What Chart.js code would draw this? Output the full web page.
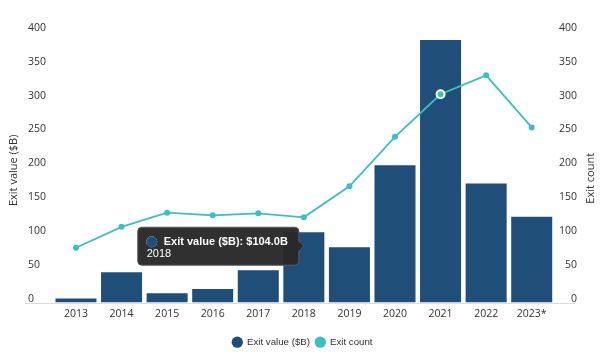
<!DOCTYPE html>
<html>
<head>
<meta charset="utf-8">
<script src="https://cdn.jsdelivr.net/npm/chart.js@4"></script>
<style>
  html, body { margin: 0; padding: 0; background: #ffffff; }
  #wrap { width: 602px; height: 354px; }
</style>
</head>
<body>
<div id="wrap"><canvas id="c" width="602" height="354"></canvas></div>
<script>
const years = ['2013', '2014', '2015', '2016', '2017', '2018', '2019', '2020', '2021', '2022', '2023*'];
const exitValue = [6, 45, 14, 20, 48, 104, 82, 203, 388, 176, 127];
const exitCount = [81, 112, 133, 129, 132, 126, 172, 245, 308, 336, 259];
const axisTicks = [0, 50, 100, 150, 200, 250, 300, 350, 400];

const BAR = '#1f4e79';
const TEAL = '#3bbfc7';
const TICK_FONT = { family: '"Open Sans", sans-serif', size: 10.5 };

Chart.Tooltip.positioners.barSide = function (elements) {
  if (!elements.length) return false;
  const el = elements[0].element;
  return { x: el.x, y: el.y + 14, xAlign: 'right', yAlign: 'center' };
};

const extras = {
  id: 'extras',
  beforeDatasetsDraw(chart) {
    const ctx = chart.ctx;
    const y = chart.scales.y, y1 = chart.scales.y1;
    const base = Math.round(y.getPixelForValue(0)) + 0.5;
    ctx.save();
    ctx.strokeStyle = '#dcdcdc';
    ctx.lineWidth = 1;
    ctx.beginPath();
    ctx.moveTo(y.left - 3, base);
    ctx.lineTo(y1.right - 2, base);
    ctx.stroke();
    ctx.restore();
  },
  afterDraw(chart) {
    const ctx = chart.ctx;
    const a = chart.chartArea;
    const cy = (a.top + a.bottom) / 2 + 3;
    ctx.save();
    ctx.fillStyle = '#333333';
    ctx.font = '11px "Open Sans", sans-serif';
    ctx.textAlign = 'center';
    ctx.textBaseline = 'middle';
    ctx.translate(14, cy);
    ctx.rotate(-Math.PI / 2);
    ctx.fillText('Exit value ($B)', 0, 0);
    ctx.restore();
    ctx.save();
    ctx.fillStyle = '#333333';
    ctx.font = '11px "Open Sans", sans-serif';
    ctx.textAlign = 'center';
    ctx.textBaseline = 'middle';
    ctx.translate(591, cy + 8);
    ctx.rotate(-Math.PI / 2);
    ctx.fillText('Exit count', 0, 0);
    ctx.restore();
  }
};

const chart = new Chart(document.getElementById('c'), {
  data: {
    labels: years,
    datasets: [
      {
        type: 'bar',
        label: 'Exit value ($B)',
        data: exitValue,
        yAxisID: 'y',
        backgroundColor: BAR,
        borderWidth: 0,
        barPercentage: 0.9,
        categoryPercentage: 1.0,
        order: 1
      },
      {
        type: 'line',
        label: 'Exit count',
        data: exitCount,
        yAxisID: 'y1',
        borderColor: TEAL,
        backgroundColor: TEAL,
        borderWidth: 1.8,
        tension: 0,
        pointRadius: ctx => (ctx.dataIndex === 8 ? 4 : 3),
        pointBorderWidth: ctx => (ctx.dataIndex === 8 ? 2 : 0),
        pointBorderColor: ctx => (ctx.dataIndex === 8 ? '#ffffff' : TEAL),
        pointBackgroundColor: TEAL,
        order: 0
      }
    ]
  },
  options: {
    responsive: false,
    animation: false,
    events: [],
    layout: { padding: { top: 32, left: 28, right: 25, bottom: -3 } },
    scales: {
      x: {
        grid: { display: false, drawTicks: false },
        border: { display: false },
        ticks: { font: TICK_FONT, color: '#333333', padding: 5, maxRotation: 0 },
        afterFit(s) { s.height = 29.2; }
      },
      y: {
        position: 'left',
        min: 0, max: 400,
        afterBuildTicks(s) { s.ticks = axisTicks.map(v => ({ value: v })); },
        grid: { display: false, drawTicks: false },
        border: { display: false },
        ticks: { font: TICK_FONT, color: '#333333', crossAlign: 'far', labelOffset: -4, padding: 0 },
        afterFit(s) { s.width = 25.2; }
      },
      y1: {
        position: 'right',
        min: 0, max: 400,
        afterBuildTicks(s) { s.ticks = axisTicks.map(v => ({ value: v })); },
        grid: { display: false, drawTicks: false },
        border: { display: false },
        ticks: { font: TICK_FONT, color: '#333333', crossAlign: 'far', labelOffset: -4, padding: 0 },
        afterFit(s) { s.width = 22.5; }
      }
    },
    plugins: {
      legend: {
        position: 'bottom',
        labels: {
          usePointStyle: true,
          pointStyle: 'circle',
          boxWidth: 16,
          boxHeight: 8,
          padding: 5.5,
          color: '#333333',
          font: { family: '"Liberation Sans", Arial, sans-serif', size: 9.7 },
          sort: (a, b) => a.datasetIndex - b.datasetIndex
        }
      },
      tooltip: {
        enabled: true,
        position: 'barSide',
        backgroundColor: 'rgba(40,40,40,0.96)',
        borderColor: '#5a5a5a',
        borderWidth: 1,
        cornerRadius: 4,
        caretSize: 5,
        caretPadding: 0,
        padding: { top: 9, bottom: 6, left: 9, right: 11 },
        displayColors: true,
        usePointStyle: true,
        boxWidth: 10,
        boxHeight: 10,
        boxPadding: 5,
        bodyColor: '#ffffff',
        footerColor: '#ffffff',
        bodyFont: { family: '"Liberation Sans", Arial, sans-serif', size: 11, weight: 'bold', lineHeight: 1 },
        footerFont: { family: '"Liberation Sans", Arial, sans-serif', size: 11, weight: 'normal', lineHeight: 1 },
        footerMarginTop: 1,
        callbacks: {
          title: () => '',
          label: ctx => ctx.dataset.label + ': $' + ctx.parsed.y.toFixed(1) + 'B',
          footer: items => items.length ? items[0].label : '',
          labelColor: () => ({ borderColor: BAR, backgroundColor: BAR, borderWidth: 0 }),
          labelPointStyle: () => ({ pointStyle: 'circle', rotation: 0 })
        }
      }
    }
  },
  plugins: [extras]
});

chart.tooltip.setActiveElements([{ datasetIndex: 0, index: years.indexOf('2018') }], { x: 0, y: 0 });
chart.update();
</script>
</body>
</html>
